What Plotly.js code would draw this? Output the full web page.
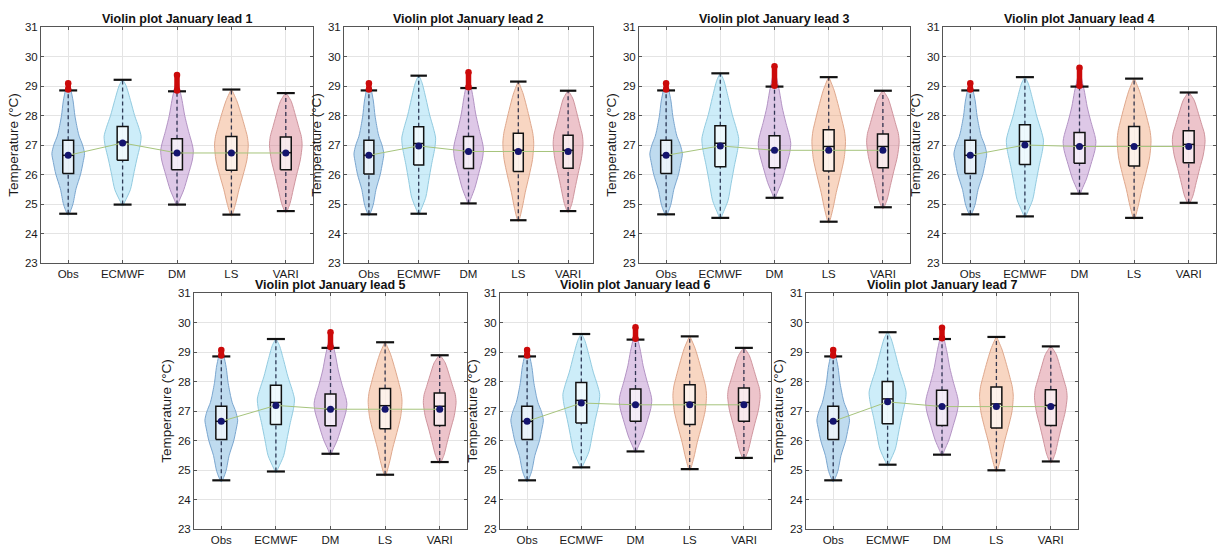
<!DOCTYPE html>
<html>
<head>
<meta charset="utf-8">
<script src="https://cdn.plot.ly/plotly-3.0.1.min.js"></script>
<style>
html,body{margin:0;padding:0;background:#fff;}
#chart{width:1217px;height:545px;}
</style>
</head>
<body>
<div id="chart"></div>
<script>
// ---------------- DATA ----------------
const categories = ['Obs', 'ECMWF', 'DM', 'LS', 'VARI'];
const leads = [1, 2, 3, 4, 5, 6, 7];

// rows = lead 1..7, columns = Obs, ECMWF, DM, LS, VARI
const whiskerLow = [
  [24.67, 24.98, 24.98, 24.64, 24.76],
  [24.65, 24.67, 25.02, 24.45, 24.76],
  [24.65, 24.53, 25.21, 24.40, 24.89],
  [24.65, 24.58, 25.35, 24.53, 25.04],
  [24.65, 24.95, 25.55, 24.84, 25.27],
  [24.65, 25.09, 25.63, 25.03, 25.41],
  [24.65, 25.18, 25.52, 24.99, 25.29]
];
const quartile1 = [
  [26.03, 26.48, 26.16, 26.14, 26.16],
  [26.02, 26.32, 26.20, 26.10, 26.21],
  [26.03, 26.26, 26.23, 26.12, 26.23],
  [26.03, 26.34, 26.38, 26.29, 26.40],
  [26.03, 26.54, 26.50, 26.40, 26.51],
  [26.03, 26.59, 26.65, 26.54, 26.65],
  [26.03, 26.57, 26.51, 26.42, 26.51]
];
const medians = [
  [26.65, 27.10, 26.73, 26.74, 26.74],
  [26.65, 27.05, 26.78, 26.82, 26.82],
  [26.65, 27.06, 26.82, 26.95, 26.95],
  [26.65, 27.12, 26.97, 26.97, 27.02],
  [26.65, 27.29, 27.06, 27.18, 27.16],
  [26.65, 27.36, 27.22, 27.29, 27.29],
  [26.65, 27.41, 27.16, 27.24, 27.19]
];
const quartile3 = [
  [27.16, 27.63, 27.21, 27.29, 27.27],
  [27.16, 27.62, 27.29, 27.40, 27.33],
  [27.16, 27.65, 27.31, 27.52, 27.37],
  [27.16, 27.69, 27.42, 27.63, 27.48],
  [27.16, 27.87, 27.58, 27.76, 27.61],
  [27.16, 27.97, 27.75, 27.89, 27.78],
  [27.16, 28.00, 27.70, 27.81, 27.72]
];
const whiskerHigh = [
  [28.85, 29.21, 28.82, 28.88, 28.76],
  [28.85, 29.35, 28.93, 29.15, 28.84],
  [28.85, 29.43, 28.98, 29.30, 28.84],
  [28.85, 29.30, 28.98, 29.25, 28.78],
  [28.85, 29.44, 29.14, 29.33, 28.89],
  [28.85, 29.61, 29.42, 29.53, 29.14],
  [28.85, 29.67, 29.44, 29.51, 29.19]
];
const means = [
  [26.65, 27.07, 26.73, 26.73, 26.73],
  [26.65, 26.97, 26.78, 26.78, 26.78],
  [26.65, 26.97, 26.82, 26.82, 26.82],
  [26.65, 27.00, 26.95, 26.95, 26.95],
  [26.65, 27.19, 27.06, 27.06, 27.06],
  [26.65, 27.27, 27.21, 27.21, 27.21],
  [26.65, 27.31, 27.15, 27.15, 27.15]
];
// highest outlier (red) above the upper whisker, null = none
const outlierTop = [
  [29.12, null, 29.40, null, null],
  [29.12, null, 29.50, null, null],
  [29.12, null, 29.70, null, null],
  [29.12, null, 29.65, null, null],
  [29.10, null, 29.70, null, null],
  [29.10, null, 29.87, null, null],
  [29.10, null, 29.85, null, null]
];
// violin density outline per model: fraction of the violin height and relative half-width
const densityPos = [
  [0, 0.044, 0.088, 0.198, 0.308, 0.396, 0.462, 0.527, 0.593, 0.637, 0.747, 0.857, 0.945, 1],
  [0, 0.035, 0.129, 0.246, 0.363, 0.480, 0.550, 0.621, 0.714, 0.831, 0.948, 1],
  [0, 0.045, 0.124, 0.236, 0.348, 0.416, 0.461, 0.573, 0.685, 0.798, 0.910, 1],
  [0, 0.093, 0.209, 0.326, 0.442, 0.558, 0.628, 0.698, 0.791, 0.907, 1],
  [0, 0.073, 0.195, 0.317, 0.439, 0.561, 0.634, 0.707, 0.805, 0.927, 1]
];
const densityWidth = [
  [0, 0.18, 0.30, 0.48, 0.76, 0.91, 1.0, 0.88, 0.67, 0.58, 0.41, 0.30, 0.15, 0],
  [0, 0.12, 0.42, 0.59, 0.76, 0.95, 1.0, 0.87, 0.65, 0.43, 0.19, 0],
  [0, 0.15, 0.42, 0.69, 0.94, 1.0, 0.94, 0.69, 0.47, 0.31, 0.12, 0],
  [0, 0.24, 0.45, 0.70, 0.92, 1.0, 0.94, 0.80, 0.60, 0.32, 0],
  [0, 0.25, 0.46, 0.67, 0.89, 1.0, 0.95, 0.80, 0.60, 0.33, 0]
];

// ---------------- STYLE / LAYOUT ----------------
const W = 1217, H = 545;
const violinHalfWidth = [0.30, 0.34, 0.30, 0.31, 0.30];
const violinFill = ['rgba(120,178,222,0.47)', 'rgba(160,220,243,0.52)', 'rgba(180,130,200,0.44)',
                    'rgba(240,165,120,0.45)', 'rgba(215,125,140,0.45)'];
const violinLine = ['#7aa6cf', '#92cbe0', '#b393c4', '#dfa88d', '#cf959e'];
const boxHalf = 0.10, capHalf = 0.165;
const panelPx = [
  {x: [41, 313], y: [27, 263]},
  {x: [344, 593], y: [27, 263]},
  {x: [639, 910], y: [27, 263]},
  {x: [943, 1216], y: [27, 263]},
  {x: [194, 467], y: [293, 529]},
  {x: [500, 771], y: [293, 529]},
  {x: [806, 1078], y: [293, 529]}
];
const FONT = '"Liberation Sans", Arial, Helvetica, sans-serif';

const traces = [];
const layout = {
  width: W, height: H,
  margin: {l: 0, r: 0, t: 0, b: 0},
  paper_bgcolor: '#ffffff', plot_bgcolor: '#ffffff',
  showlegend: false,
  font: {family: FONT, size: 11, color: '#1a1a1a'},
  annotations: []
};

leads.forEach((lead, p) => {
  const sfx = p === 0 ? '' : String(p + 1);
  const xa = 'x' + sfx, ya = 'y' + sfx;
  const px = panelPx[p];
  const xdom = [px.x[0] / W, px.x[1] / W];
  const ydom = [1 - px.y[1] / H, 1 - px.y[0] / H];

  layout['xaxis' + sfx] = {
    domain: xdom, anchor: ya, range: [0.5, 5.5],
    tickmode: 'array', tickvals: [1, 2, 3, 4, 5], ticktext: categories,
    showgrid: true, gridcolor: '#e4e4e4', gridwidth: 1,
    showline: true, mirror: 'ticks', linecolor: '#555', linewidth: 1,
    ticks: 'inside', ticklen: 3, tickcolor: '#555',
    zeroline: false, fixedrange: true,
    tickfont: {family: FONT, size: 11.5, color: '#1a1a1a'}
  };
  layout['yaxis' + sfx] = {
    domain: ydom, anchor: xa, range: [23, 31],
    tickmode: 'linear', tick0: 23, dtick: 1,
    showgrid: true, gridcolor: '#e4e4e4', gridwidth: 1,
    showline: true, mirror: 'ticks', linecolor: '#555', linewidth: 1,
    ticks: 'inside', ticklen: 3, tickcolor: '#555',
    zeroline: false, fixedrange: true,
    tickfont: {family: FONT, size: 11.5, color: '#1a1a1a'},
    title: {text: 'Temperature (°C)', font: {family: FONT, size: 13.5, color: '#1a1a1a'}, standoff: 3}
  };
  layout.annotations.push({
    xref: 'paper', yref: 'paper', x: (xdom[0] + xdom[1]) / 2, y: ydom[1],
    xanchor: 'center', yanchor: 'bottom', showarrow: false, yshift: -1,
    text: '<b>Violin plot January lead ' + lead + '</b>',
    font: {family: FONT, size: 12.5, color: '#111'}
  });

  // violins
  categories.forEach((cat, m) => {
    const c = m + 1;
    const top = Math.max(whiskerHigh[p][m], outlierTop[p][m] || 0) + 0.02;
    const bot = whiskerLow[p][m] - 0.05;
    const xs = [], ys = [];
    densityPos[m].forEach((t, k) => {
      xs.push(c - densityWidth[m][k] * violinHalfWidth[m]);
      ys.push(bot + t * (top - bot));
    });
    for (let k = densityPos[m].length - 1; k >= 0; k--) {
      xs.push(c + densityWidth[m][k] * violinHalfWidth[m]);
      ys.push(bot + densityPos[m][k] * (top - bot));
    }
    traces.push({
      type: 'scatter', mode: 'lines', xaxis: xa, yaxis: ya, x: xs, y: ys,
      fill: 'toself', fillcolor: violinFill[m],
      line: {color: violinLine[m], width: 1, shape: 'spline', smoothing: 0.7},
      hoverinfo: 'skip'
    });
  });

  // whiskers (dashed)
  const wx = [], wy = [];
  categories.forEach((cat, m) => {
    const c = m + 1;
    wx.push(c, c, null, c, c, null);
    wy.push(whiskerLow[p][m], quartile1[p][m], null, quartile3[p][m], whiskerHigh[p][m], null);
  });
  traces.push({type: 'scatter', mode: 'lines', xaxis: xa, yaxis: ya, x: wx, y: wy,
    line: {color: 'rgba(20,28,60,0.85)', width: 1.3, dash: '4px,3px'}, hoverinfo: 'skip'});

  // boxes
  const bx = [], by = [];
  categories.forEach((cat, m) => {
    const c = m + 1;
    bx.push(c - boxHalf, c + boxHalf, c + boxHalf, c - boxHalf, c - boxHalf, null);
    by.push(quartile1[p][m], quartile1[p][m], quartile3[p][m], quartile3[p][m], quartile1[p][m], null);
  });
  traces.push({type: 'scatter', mode: 'lines', xaxis: xa, yaxis: ya, x: bx, y: by,
    fill: 'toself', fillcolor: 'rgba(255,255,255,0.65)',
    line: {color: '#111', width: 1.5}, hoverinfo: 'skip'});

  // medians
  const mx = [], my = [];
  categories.forEach((cat, m) => {
    const c = m + 1;
    mx.push(c - boxHalf, c + boxHalf, null);
    my.push(medians[p][m], medians[p][m], null);
  });
  traces.push({type: 'scatter', mode: 'lines', xaxis: xa, yaxis: ya, x: mx, y: my,
    line: {color: '#111', width: 1.5}, hoverinfo: 'skip'});

  // caps
  const cx = [], cy = [];
  categories.forEach((cat, m) => {
    const c = m + 1;
    cx.push(c - capHalf, c + capHalf, null, c - capHalf, c + capHalf, null);
    cy.push(whiskerLow[p][m], whiskerLow[p][m], null, whiskerHigh[p][m], whiskerHigh[p][m], null);
  });
  traces.push({type: 'scatter', mode: 'lines', xaxis: xa, yaxis: ya, x: cx, y: cy,
    line: {color: '#111', width: 2.2}, hoverinfo: 'skip'});

  // outliers (red)
  const ox = [], oy = [];
  categories.forEach((cat, m) => {
    if (outlierTop[p][m] !== null) {
      const c = m + 1;
      ox.push(c, c, null);
      oy.push(whiskerHigh[p][m] + 0.03, outlierTop[p][m] - 0.03, null);
    }
  });
  traces.push({type: 'scatter', mode: 'lines+markers', xaxis: xa, yaxis: ya, x: ox, y: oy,
    line: {color: '#cc0a0a', width: 5.5},
    marker: {color: '#cc0a0a', size: 6.5, symbol: 'circle'}, hoverinfo: 'skip'});

  // mean line
  traces.push({type: 'scatter', mode: 'lines', xaxis: xa, yaxis: ya,
    x: [1, 2, 3, 4, 5], y: means[p],
    line: {color: '#a6c47c', width: 1}, hoverinfo: 'skip'});
  // mean markers
  traces.push({type: 'scatter', mode: 'markers', xaxis: xa, yaxis: ya,
    x: [1, 2, 3, 4, 5], y: means[p],
    marker: {color: '#14146e', size: 7, symbol: 'circle'}, hoverinfo: 'skip'});
});

Plotly.newPlot('chart', traces, layout, {displayModeBar: false, staticPlot: true});
</script>
</body>
</html>
